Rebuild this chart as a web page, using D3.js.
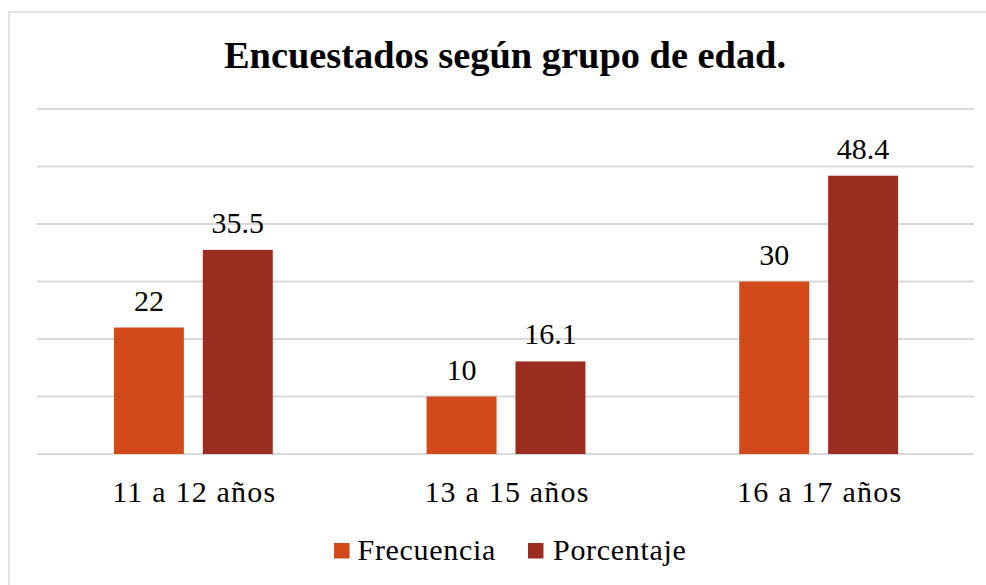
<!DOCTYPE html>
<html><head><meta charset="utf-8">
<script src="https://cdn.jsdelivr.net/npm/d3@7"></script>
<style>body{margin:0;background:#fff;}svg{display:block;} text{font-family:'Liberation Serif','Times New Roman',serif;}</style>
</head><body>
<svg id="c" width="986" height="585"></svg>
<script>
const categories = ["11 a 12 años", "13 a 15 años", "16 a 17 años"];
const seriesNames = ["Frecuencia", "Porcentaje"];
const frecuencia = [22, 10, 30];
const porcentaje = [35.5, 16.1, 48.4];
const yTicks = [0, 10, 20, 30, 40, 50, 60];
const colors = ["#d24a19", "#9b2d20"];
const title = "Encuestados según grupo de edad.";

const FONT = "'Liberation Serif', 'Times New Roman', serif";
const svg = d3.select("#c");
const W = 986, H = 585;
svg.append("rect").attr("x", 0).attr("y", 0).attr("width", W).attr("height", H).attr("fill", "#fff");
svg.append("rect").attr("x", 9).attr("y", 12).attr("width", 990).attr("height", 600)
  .attr("fill", "none").attr("stroke", "#d9d9d9").attr("stroke-width", 1.5);

const x0 = d3.scaleBand().domain(categories).range([37, 975]).paddingInner(0).paddingOuter(0);
const x1 = d3.scaleBand().domain(seriesNames).range([0, x0.bandwidth()]).paddingInner(0.213).paddingOuter(0.865);
const y = d3.scaleLinear().domain([0, 60]).range([454, 109]);

svg.append("g").selectAll("line").data(yTicks).join("line")
  .attr("x1", 37).attr("x2", 974)
  .attr("y1", d => y(d)).attr("y2", d => y(d))
  .attr("stroke", "#d9d9d9").attr("stroke-width", 2);

const data = categories.map((c, i) => ({cat: c, vals: [frecuencia[i], porcentaje[i]]}));
const g = svg.append("g").selectAll("g").data(data).join("g")
  .attr("transform", d => `translate(${x0(d.cat)},0)`);
g.selectAll("rect").data(d => d.vals.map((v, j) => ({s: seriesNames[j], v, j}))).join("rect")
  .attr("x", d => x1(d.s)).attr("width", x1.bandwidth())
  .attr("y", d => y(d.v)).attr("height", d => y(0) - y(d.v))
  .attr("fill", d => colors[d.j]);
g.selectAll("text").data(d => d.vals.map((v, j) => ({s: seriesNames[j], v, j}))).join("text")
  .attr("x", d => x1(d.s) + x1.bandwidth() / 2).attr("y", d => y(d.v) - 17)
  .attr("text-anchor", "middle")
  .style("font-family", FONT).attr("font-size", 30)
  .attr("fill", "#000").text(d => d.v);

svg.append("g").selectAll("text").data(categories).join("text")
  .attr("x", d => x0(d) + x0.bandwidth() / 2 + 1).attr("y", 502)
  .attr("text-anchor", "middle")
  .style("font-family", FONT).attr("font-size", 30).style("letter-spacing", "1.2px")
  .attr("fill", "#000").text(d => d);

svg.append("text").attr("x", 505).attr("y", 68).attr("text-anchor", "middle")
  .style("font-family", FONT).attr("font-size", 38.4)
  .attr("font-weight", "bold").attr("fill", "#000").text(title);

const legendX = [334, 528];
const lg = svg.append("g").selectAll("g").data(seriesNames).join("g")
  .attr("transform", (d, i) => `translate(${legendX[i]},0)`);
lg.append("rect").attr("x", 0).attr("y", 543).attr("width", 15.5).attr("height", 15.5)
  .attr("fill", (d, i) => colors[i]);
lg.append("text").attr("x", (d, i) => i === 0 ? 23.5 : 25).attr("y", 560)
  .style("font-family", FONT).attr("font-size", 30).style("letter-spacing", "0.7px")
  .attr("fill", "#000").text(d => d);
</script>
</body></html>
